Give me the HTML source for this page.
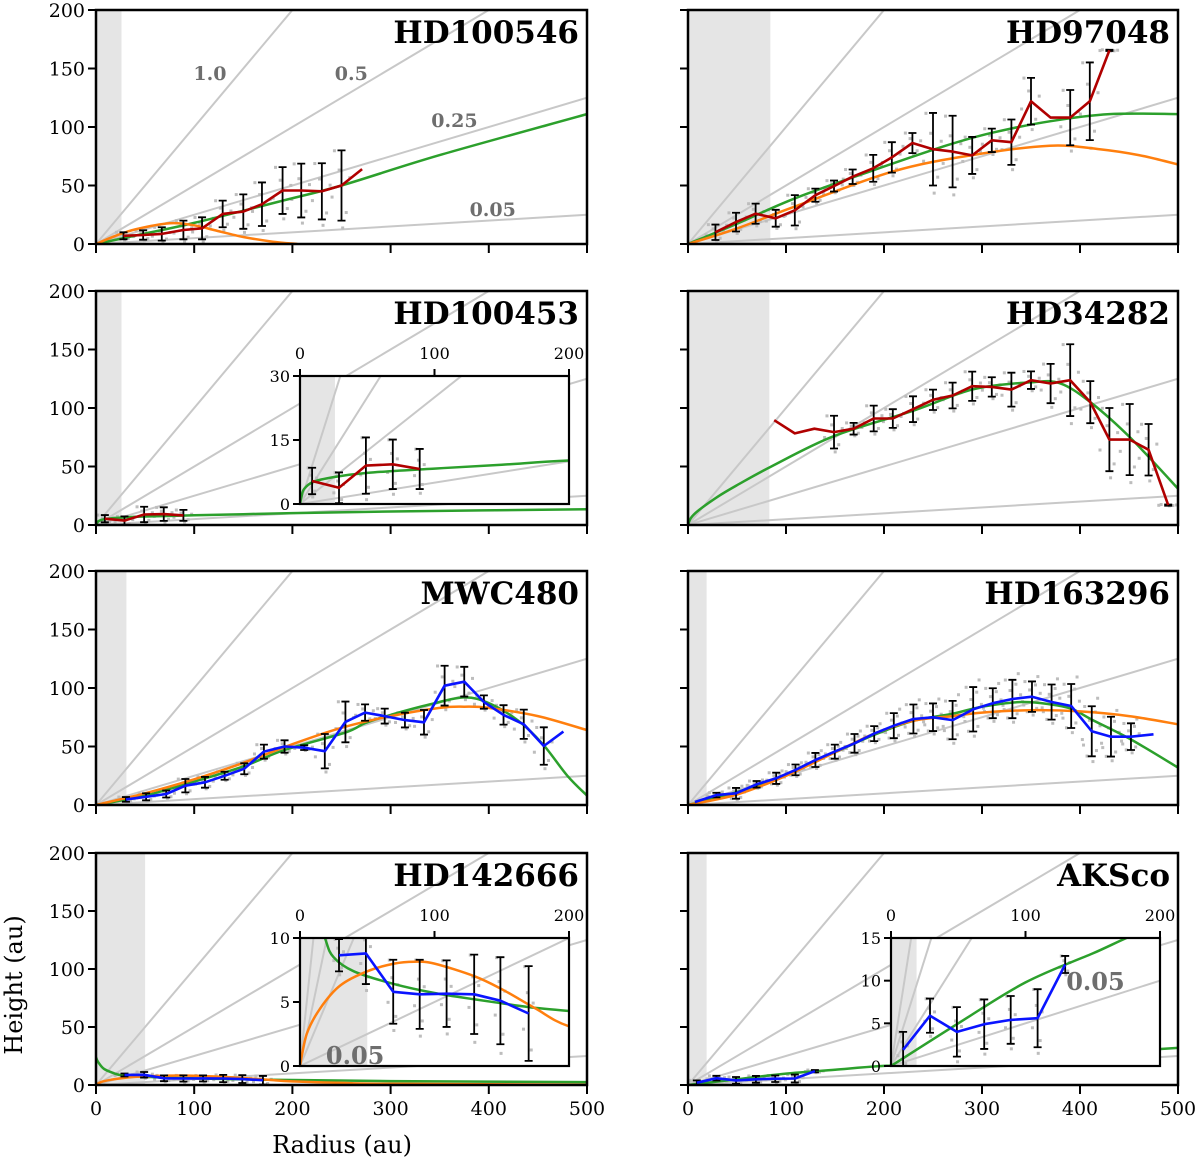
<!DOCTYPE html>
<html><head><meta charset="utf-8"><style>
html,body{margin:0;padding:0;background:#fff;}
svg{display:block;}
text{font-family:"DejaVu Serif","Liberation Serif",serif;}
.ttl{font-family:"DejaVu Serif","Liberation Serif",serif;font-weight:bold;font-size:31px;}
</style></head><body>
<svg id="fig" width="1200" height="1163" viewBox="0 0 1200 1163" xmlns="http://www.w3.org/2000/svg">
<defs id="defs"></defs>
<text x="22" y="985" font-size="24" text-anchor="middle" transform="rotate(-90 22 985)">Height (au)</text>
<text x="342" y="1153" font-size="24" text-anchor="middle">Radius (au)</text>
</svg>
<script>
// ---- data arrays ----
const slopes = [1.0, 0.5, 0.25, 0.05];
const ticksY = [0, 50, 100, 150, 200];
const ticksX = [0, 100, 200, 300, 400, 500];
const slopeLabelText = ["1.0", "0.5", "0.25", "0.05"];
const slopeLabelR = [116, 260, 365, 404];
const slopeLabelH = [146, 146, 106, 30];

// HD100546
const a_line_r = [28,48,67,89,108,129,150,169,190,209,230,250,271];
const a_line_h = [7,7.7,8.6,12,13.4,25.7,27.7,34,45.7,45.7,45,50,64];
const a_err = [3,4,5.7,8,9.4,11.4,14.7,18.6,20,23,24,30,0];
const a_green_r = [0,50,100,190,250,350,500];
const a_green_h = [0,9,18,37,50,76,111];
const a_orange_r = [0,20,40,75,100,120,150,180,205];
const a_orange_h = [0,7,12.5,17.7,16,12,6,2,0];

// HD97048
const b_line_r = [28,49,69,89.5,109,130,149,168,189,208,229,250,270,290,310,330,350,370,390,410,430];
const b_line_h = [10,18.7,25.9,22,28.8,41.7,49.5,57.5,64.7,74,86.3,81,79,75.7,88.6,87,122,108,108,122,165.5];
const b_err = [6.6,8,8.6,7.2,13,5.6,4.7,6.2,11.5,13,8.6,31,30.6,15.8,10,19.4,20,0,23.6,33.2,0.5];
const b_green_r = [0,49,109,189,263,310,370,430,500];
const b_green_h = [0,17,39,63,84,95,105,111,111];
const b_orange_r = [0,49,109,209,290,369,420,460,500];
const b_orange_h = [0,13,32,62,76,84,81,76,68];

// HD100453
const c_line_r = [9,29,49,69,89];
const c_line_h = [5.4,3.8,9,9.3,8.2];
const c_err = [3.1,3.6,6.6,5.8,4.7];
const c_green_r = [0,1,3,10,25,50,100,150,200,300,500];
const c_green_h = [0,1.5,3.5,5.2,6.3,7.3,8.3,9.2,10.2,11.5,13.5];

// HD34282
const d_line_r = [88,109,129,149,169,189.5,209,229.6,250,270,290,310,330,350,370,390,410.5,430,450.7,470,490];
const d_line_h = [89.6,78.3,82.3,79.4,82.3,91,91,99,107,110.7,118.6,118,115.7,123.8,120.9,123.8,105,73,73,64.3,17];
const d_err = [0,0,0,14,5,11,8,11,8.7,11,12.5,8.3,14.5,7.5,16.8,30.7,18,27,30.4,22,0.5];
const d_green_r = [0,3,10,30,50,85,149,231,291,350,380,412,452,500];
const d_green_h = [0,6,12,24,34,50,76,98,116,122,121,104,74,31];

// MWC480
const e_line_r = [30.5,51,71.5,91,111,131,151,171,192,212,233,254,274,294,314.6,334,355,375,395,415,435.6,456,476];
const e_line_h = [4.8,7,9.4,16.5,19.4,25,31,45.6,50,49,46,71,79,76,72.6,70.7,102,105.4,88,77,69,50.4,62.7];
const e_err = [2,3,3,5.7,4.6,3.4,4.7,6,5.3,2,14.7,17.4,7,6.4,6.3,10.5,17,12.7,5.7,8.3,12.5,16,0];
const e_green_r = [0,50,100,150,192,254,274,300,340,375,400,430,455,480,500];
const e_green_h = [0,8,20,33,47,62,70,77,86,92,87,72,52,25,8];
const e_orange_r = [0,50,100,150,200,250,300,350,375,400,450,500];
const e_orange_h = [0,10,22,36,52,66,76,83,84,83,76,64];

// HD163296
const f_line_r = [7,29,49,70,90,109.7,130,149.8,169.9,190,210,230,250,270,291,311,331,351,371,391,412,431.6,452,475];
const f_line_h = [2.6,8.5,10,17.7,22.8,30,38.5,45.6,52.7,61,67.8,73.5,75,72.6,81.8,87,90.6,92.6,88,84.6,63,58.4,58.4,60.4];
const f_err = [0,2,4.6,2.8,4.8,4.6,6,6,8,6.4,10.7,12.4,11.8,16.4,19,12.8,16.4,13,15,18.8,21.4,17,11.4,0];
const f_green_r = [0,50,100,150,190,230,270,300,340,370,392,412,452,500];
const f_green_h = [0,11,26,45,60,72,78,84,88,86,82,73,56,32];
const f_orange_r = [0,50,100,150,190,230,270,300,350,400,450,500];
const f_orange_h = [0,9,25,45,61,72,76,79,81,80,76,69];

// HD142666
const g_line_r = [29,49,69.3,89,109,129.5,149,170];
const g_line_h = [8.65,8.8,5.8,5.6,5.65,5.6,5.1,4.1];
const g_err = [1.26,2.4,2.5,2.7,2.6,3.1,3.4,3.7];
const g_green_r = [0,2,8,18.6,25,40,70,100,130,150,170,200,300,500];
const g_green_h = [24,20,14,10,8.5,7.4,6.4,5.7,5.2,4.9,4.6,4.3,3.4,2.5];
const g_orange_r = [0,5,15,30,50,70,85,100,130,150,175,200,250,300,500];
const g_orange_h = [0,2.5,4.5,6.3,7.4,8,8.15,8,7,6,4.5,3.1,1.8,1,0.3];

// AKSco
const h_line_r = [9,29,49,69.3,89,109,129.5];
const h_line_h = [1.9,5.9,4,4.9,5.4,5.6,11.9];
const h_err = [2.1,2,2.9,2.9,2.8,3.4,1];
const h_green_r = [0,50,100,150,200,300,400,500];
const h_green_h = [0,5,9.8,13.2,16.5,21,26.5,32];

// scatter pattern (offsets relative to each error bar)
const dotDr = [-6,4,-2,7,-8,1,5,-4,3,-7];
const dotDf = [0.9,-0.7,0.4,0.2,-0.3,-1.1,1.2,-0.9,0.7,-0.5];

const NS = "http://www.w3.org/2000/svg";
const svg = document.getElementById('fig');
const defs = document.getElementById('defs');
let clipId = 0;
function mk(tag, attrs, parent) {
  const el = document.createElementNS(NS, tag);
  for (const k in attrs) el.setAttribute(k, attrs[k]);
  (parent || svg).appendChild(el);
  return el;
}
function pathD(rs, hs, X, Y) {
  return rs.map((r, i) => (i ? 'L' : 'M') + X(r).toFixed(1) + ' ' + Y(hs[i]).toFixed(1)).join(' ');
}
function smoothD(rs, hs, X, Y) {
  const p = rs.map((r, i) => [X(r), Y(hs[i])]);
  let d = 'M' + p[0][0].toFixed(1) + ' ' + p[0][1].toFixed(1);
  for (let i = 0; i < p.length - 1; i++) {
    const p0 = p[Math.max(0, i - 1)], p1 = p[i], p2 = p[i + 1], p3 = p[Math.min(p.length - 1, i + 2)];
    const c1 = [p1[0] + (p2[0] - p0[0]) / 6, p1[1] + (p2[1] - p0[1]) / 6];
    const c2 = [p2[0] - (p3[0] - p1[0]) / 6, p2[1] - (p3[1] - p1[1]) / 6];
    d += ` C${c1[0].toFixed(1)} ${c1[1].toFixed(1)} ${c2[0].toFixed(1)} ${c2[1].toFixed(1)} ${p2[0].toFixed(1)} ${p2[1].toFixed(1)}`;
  }
  return d;
}

function drawContent(g, X, Y, xmax, ymax, cfg) {
  const sh = mk('rect', {x: X(0), y: Y(ymax), width: X(cfg.shade) - X(0), height: Y(0) - Y(ymax), fill: '#e5e5e5'}, g);
  
  
  slopes.forEach(s => {
    const l = mk('line', {x1: X(0), y1: Y(0), x2: X(xmax), y2: Y(s * xmax), stroke: '#c8c8c8', 'stroke-width': 2}, g);
    
    
  });
  const nd = cfg.dense ? 10 : 6;
  cfg.lr.forEach((r, i) => {
    if (!cfg.err[i]) return;
    for (let k = 0; k < nd; k++) {
      const rr = r + dotDr[k] * (xmax / 500) * 1.2;
      const hh = cfg.lh[i] + dotDf[k] * cfg.err[i] * 1.1;
      const d = mk('rect', {x: X(rr) - 1.5, y: Y(hh) - 1.5, width: 3, height: 3, fill: '#bdbdbd'}, g);
      
      
    }
  });
  if (cfg.gr) {
    const p = mk('path', {d: smoothD(cfg.gr, cfg.gh, X, Y), fill: 'none', stroke: '#2ca02c', 'stroke-width': 2.5}, g);
    
    
  }
  if (cfg.or) {
    const p = mk('path', {d: smoothD(cfg.or, cfg.oh, X, Y), fill: 'none', stroke: '#ff7f0e', 'stroke-width': 2.5}, g);
    
    
  }
  cfg.lr.forEach((r, i) => {
    const e = cfg.err[i];
    if (!e) return;
    const x = X(r), y1 = Y(cfg.lh[i] - e), y2 = Y(cfg.lh[i] + e);
    const eb = mk('path', {d: `M${x} ${y1} L${x} ${y2} M${x-4} ${y1} L${x+4} ${y1} M${x-4} ${y2} L${x+4} ${y2}`, stroke: '#000', 'stroke-width': 1.8, fill: 'none'}, g);
    
    
  });
  const ln = mk('path', {d: pathD(cfg.lr, cfg.lh, X, Y), fill: 'none', stroke: cfg.color, 'stroke-width': 2.6, 'stroke-linejoin': 'round'}, g);
  
  
}

function clipGroup(x0, yt, x1, yb) {
  const id = 'c' + (clipId++);
  const cp = mk('clipPath', {id: id}, defs);
  mk('rect', {x: x0, y: yt, width: x1 - x0, height: yb - yt}, cp);
  return mk('g', {'clip-path': `url(#${id})`});
}

function panel(cfg) {
  const {x0, x1, yt, yb} = cfg;
  const X = r => x0 + r * (x1 - x0) / 500;
  const Y = h => yb - h * (yb - yt) / 200;
  const g = clipGroup(x0, yt, x1, yb);
  
  
  drawContent(g, X, Y, 500, 200, cfg);
  if (cfg.slopeLabels) {
    slopeLabelText.forEach((t, i) => {
      const tx = mk('text', {x: X(slopeLabelR[i]), y: Y(slopeLabelH[i]) + 7, 'font-size': 19, 'font-weight': 'bold', fill: '#6e6e6e', 'text-anchor': 'middle'});
      tx.textContent = t;
      
      
    });
  }
  const tt = mk('text', {x: x1 - 8, y: yt + 33, 'text-anchor': 'end', class: 'ttl'});
  tt.textContent = cfg.name;
  
  
  const fr = mk('rect', {x: x0, y: yt, width: x1 - x0, height: yb - yt, fill: 'none', stroke: '#000', 'stroke-width': 2.5});
  
  
  ticksY.forEach(v => {
    const t = mk('line', {x1: x0 - 8, x2: x0, y1: Y(v), y2: Y(v), stroke: '#000', 'stroke-width': 2});
    
    
    if (cfg.left) {
      const l = mk('text', {x: x0 - 11, y: Y(v) + 7, 'font-size': 19, 'text-anchor': 'end'});
      l.textContent = v;
      
      
    }
  });
  ticksX.forEach(v => {
    const t = mk('line', {x1: X(v), x2: X(v), y1: yb, y2: yb + 9, stroke: '#000', 'stroke-width': 2});
    
    
    if (cfg.bottom) {
      const l = mk('text', {x: X(v), y: yb + 30, 'font-size': 19, 'text-anchor': 'middle'});
      l.textContent = v;
      
      
    }
  });
  if (cfg.inset) inset(cfg, cfg.inset);
}

function inset(cfg, ic) {
  const {x0, x1, yt, yb, ymax, yt_ticks} = ic;
  const X = r => x0 + r * (x1 - x0) / 200;
  const Y = h => yb - h * (yb - yt) / ymax;
  const bg = mk('rect', {x: x0, y: yt, width: x1 - x0, height: yb - yt, fill: '#fff'});
  
  
  const g = clipGroup(x0, yt, x1, yb);
  
  
  drawContent(g, X, Y, 200, ymax, cfg);
  if (ic.label) {
    const tx = mk('text', {x: X(ic.label[0]), y: Y(ic.label[1]), 'font-size': 24, 'font-weight': 'bold', fill: '#6e6e6e', 'text-anchor': 'middle'});
    tx.textContent = '0.05';
    
    
  }
  const fr = mk('rect', {x: x0, y: yt, width: x1 - x0, height: yb - yt, fill: 'none', stroke: '#000', 'stroke-width': 2.2});
  
  
  [0, 100, 200].forEach(v => {
    const t = mk('line', {x1: X(v), x2: X(v), y1: yt - 7, y2: yt, stroke: '#000', 'stroke-width': 2});
    
    
    const l = mk('text', {x: X(v), y: yt - 17, 'font-size': 16, 'text-anchor': 'middle'});
    l.textContent = v;
    
    
  });
  yt_ticks.forEach(v => {
    const t = mk('line', {x1: x0 - 7, x2: x0, y1: Y(v), y2: Y(v), stroke: '#000', 'stroke-width': 2});
    
    
    const l = mk('text', {x: x0 - 10, y: Y(v) + 6, 'font-size': 16, 'text-anchor': 'end'});
    l.textContent = v;
    
    
  });
}

const L = [96, 587], R = [688, 1178];
const rows = [[10, 244], [291, 525], [571, 805], [853, 1085]];
const RED = '#b00000', BLUE = '#0a14ff';

panel({name: 'HD100546', x0: L[0], x1: L[1], yt: rows[0][0], yb: rows[0][1], left: true, shade: 26, lr: a_line_r, lh: a_line_h, err: a_err, gr: a_green_r, gh: a_green_h, or: a_orange_r, oh: a_orange_h, color: RED, slopeLabels: true});
panel({name: 'HD97048', x0: R[0], x1: R[1], yt: rows[0][0], yb: rows[0][1], shade: 84, lr: b_line_r, lh: b_line_h, err: b_err, gr: b_green_r, gh: b_green_h, or: b_orange_r, oh: b_orange_h, color: RED});
panel({name: 'HD100453', x0: L[0], x1: L[1], yt: rows[1][0], yb: rows[1][1], left: true, shade: 26, lr: c_line_r, lh: c_line_h, err: c_err, gr: c_green_r, gh: c_green_h, color: RED,
  inset: {x0: 300, x1: 569, yt: 376, yb: 504, ymax: 30, yt_ticks: [0, 15, 30]}});
panel({name: 'HD34282', x0: R[0], x1: R[1], yt: rows[1][0], yb: rows[1][1], shade: 83, lr: d_line_r, lh: d_line_h, err: d_err, gr: d_green_r, gh: d_green_h, color: RED});
panel({name: 'MWC480', x0: L[0], x1: L[1], yt: rows[2][0], yb: rows[2][1], left: true, shade: 31, lr: e_line_r, lh: e_line_h, err: e_err, gr: e_green_r, gh: e_green_h, or: e_orange_r, oh: e_orange_h, color: BLUE});
panel({name: 'HD163296', x0: R[0], x1: R[1], yt: rows[2][0], yb: rows[2][1], shade: 19, dense: true, lr: f_line_r, lh: f_line_h, err: f_err, gr: f_green_r, gh: f_green_h, or: f_orange_r, oh: f_orange_h, color: BLUE});
panel({name: 'HD142666', x0: L[0], x1: L[1], yt: rows[3][0], yb: rows[3][1], left: true, bottom: true, shade: 50, lr: g_line_r, lh: g_line_h, err: g_err, gr: g_green_r, gh: g_green_h, or: g_orange_r, oh: g_orange_h, color: BLUE,
  inset: {x0: 300, x1: 569, yt: 938, yb: 1066, ymax: 10, yt_ticks: [0, 5, 10], label: [41, 0.15]}});
panel({name: 'AKSco', x0: R[0], x1: R[1], yt: rows[3][0], yb: rows[3][1], bottom: true, shade: 19, lr: h_line_r, lh: h_line_h, err: h_err, gr: h_green_r, gh: h_green_h, color: BLUE,
  inset: {x0: 891, x1: 1160, yt: 938, yb: 1066, ymax: 15, yt_ticks: [0, 5, 10, 15], label: [152, 8.9]}});
</script>
</body></html>
